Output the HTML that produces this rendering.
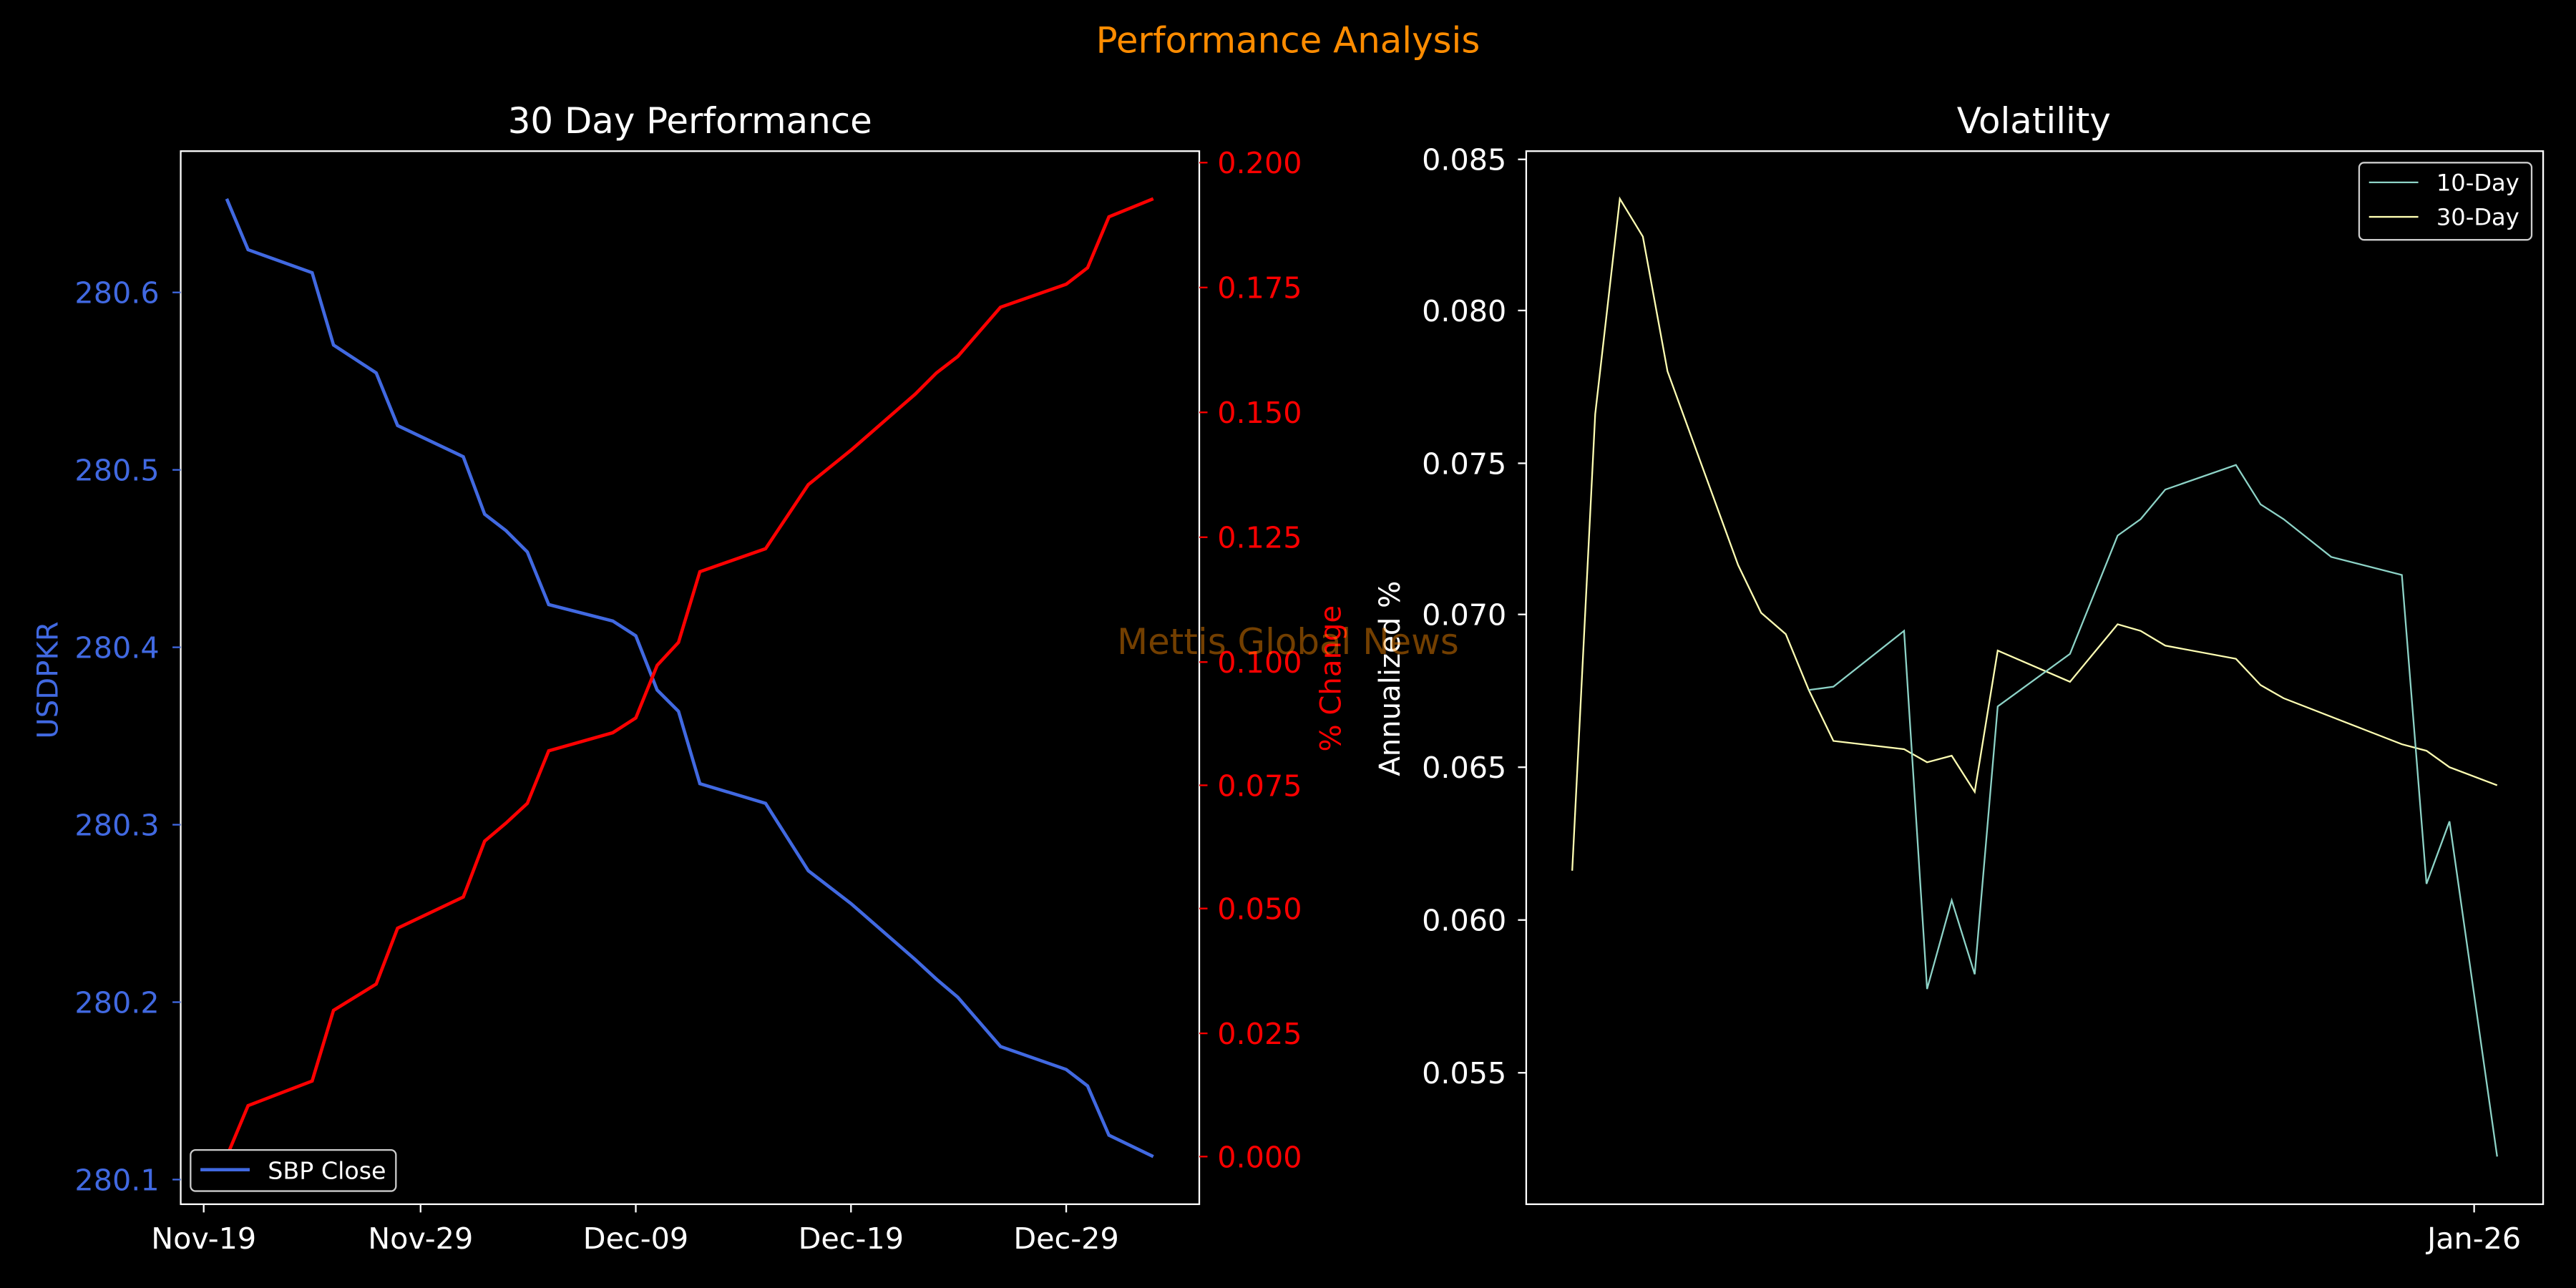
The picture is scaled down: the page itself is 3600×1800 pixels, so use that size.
<!DOCTYPE html>
<html><head><style>html,body{margin:0;padding:0;background:#000;}svg{display:block}</style></head>
<body>
<svg width="3600" height="1800" viewBox="0 0 1568 784" xmlns="http://www.w3.org/2000/svg" font-family="'DejaVu Sans','Liberation Sans',sans-serif">
<rect width="1568" height="784" fill="#000"/>
<text x="784" y="32" fill="#ff8c00" font-size="21.7" text-anchor="middle">Performance Analysis</text>
<!-- Left plot -->
<text x="420" y="81" fill="#fff" font-size="21.7" text-anchor="middle">30 Day Performance</text>
<rect x="110" y="92" width="620" height="641" fill="none" stroke="#fff" stroke-width="1"/>
<g fill="#4169e1" font-size="18" text-anchor="end" stroke="none">
<text x="97" y="184.5">280.6</text><text x="97" y="292.5">280.5</text><text x="97" y="400.5">280.4</text>
<text x="97" y="508.5">280.3</text><text x="97" y="616.5">280.2</text><text x="97" y="724.5">280.1</text>
</g>
<g stroke="#4169e1"><line x1="105" x2="110" y1="178" y2="178"/><line x1="105" x2="110" y1="286" y2="286"/><line x1="105" x2="110" y1="394" y2="394"/><line x1="105" x2="110" y1="502" y2="502"/><line x1="105" x2="110" y1="610" y2="610"/><line x1="105" x2="110" y1="718" y2="718"/></g>
<text transform="translate(35,414) rotate(-90)" fill="#4169e1" font-size="17.5" text-anchor="middle">USDPKR</text>
<g fill="#ff0000" font-size="18">
<text x="741" y="105.5">0.200</text><text x="741" y="181.5">0.175</text><text x="741" y="257.5">0.150</text>
<text x="741" y="333.5">0.125</text><text x="741" y="409.5">0.100</text><text x="741" y="484.5">0.075</text>
<text x="741" y="559.5">0.050</text><text x="741" y="635.5">0.025</text><text x="741" y="710.5">0.000</text>
</g>
<g stroke="#ff0000"><line x1="730" x2="735" y1="99" y2="99"/><line x1="730" x2="735" y1="175" y2="175"/><line x1="730" x2="735" y1="251" y2="251"/><line x1="730" x2="735" y1="327" y2="327"/><line x1="730" x2="735" y1="403" y2="403"/><line x1="730" x2="735" y1="478" y2="478"/><line x1="730" x2="735" y1="553" y2="553"/><line x1="730" x2="735" y1="629" y2="629"/><line x1="730" x2="735" y1="704" y2="704"/></g>
<text transform="translate(816,413) rotate(-90)" fill="#ff0000" font-size="17.5" text-anchor="middle">% Change</text>
<g fill="#fff" font-size="18" text-anchor="middle">
<text x="124" y="760">Nov-19</text><text x="256" y="760">Nov-29</text><text x="387" y="760">Dec-09</text><text x="518" y="760">Dec-19</text><text x="649" y="760">Dec-29</text>
</g>
<g stroke="#fff"><line x1="124" x2="124" y1="733" y2="738"/><line x1="256" x2="256" y1="733" y2="738"/><line x1="387" x2="387" y1="733" y2="738"/><line x1="518" x2="518" y1="733" y2="738"/><line x1="649" x2="649" y1="733" y2="738"/></g>
<polyline fill="none" stroke="#4169e1" stroke-width="2" points="138,121 151,152 190,166 203,210 229,227 242,259 282,278 295,313 308,323 321,336 334,368 373,378 387,387 400,420 413,433 426,477 466,489 492,530 518,550 557,584 570,596 583,607 609,637 649,651 662,661 675,691 702,704"/>
<polyline fill="none" stroke="#ff0000" stroke-width="2" points="138,704 151,673 190,658 203,615 229,599 242,565 282,546 295,512 308,501 321,489 334,457 373,446 387,437 400,405 413,391 426,348 466,334 492,295 518,274 557,240 570,227 583,217 609,187 649,173 662,163 675,132 702,121"/>
<rect x="116" y="700" width="125" height="25" rx="3" fill="#000" stroke="#ccc" stroke-width="1"/>
<line x1="122" x2="152" y1="712" y2="712" stroke="#4169e1" stroke-width="2"/>
<text x="163" y="717.5" fill="#fff" font-size="14.5">SBP Close</text>
<!-- Right plot -->
<text x="1238" y="81" fill="#fff" font-size="21.7" text-anchor="middle">Volatility</text>
<rect x="929" y="92" width="619" height="641" fill="none" stroke="#fff" stroke-width="1"/>
<g fill="#fff" font-size="18" text-anchor="end">
<text x="917" y="103.5">0.085</text><text x="917" y="195.5">0.080</text><text x="917" y="288.5">0.075</text><text x="917" y="380.5">0.070</text>
<text x="917" y="473.5">0.065</text><text x="917" y="566.5">0.060</text><text x="917" y="659.5">0.055</text>
</g>
<g stroke="#fff"><line x1="924" x2="929" y1="97" y2="97"/><line x1="924" x2="929" y1="189" y2="189"/><line x1="924" x2="929" y1="282" y2="282"/><line x1="924" x2="929" y1="374" y2="374"/><line x1="924" x2="929" y1="467" y2="467"/><line x1="924" x2="929" y1="560" y2="560"/><line x1="924" x2="929" y1="653" y2="653"/><line x1="1506" x2="1506" y1="733" y2="738"/></g>
<text transform="translate(852,413) rotate(-90)" fill="#fff" font-size="17.5" text-anchor="middle">Annualized %</text>
<text x="1506" y="760" fill="#fff" font-size="18" text-anchor="middle">Jan-26</text>
<polyline fill="none" stroke="#ffffb3" stroke-width="1" points="957,530 971,252 986,121 1000,144 1015,226 1058,344 1072,373 1087,386 1101,420 1116,451 1159,456 1173,464 1188,460 1202,482 1216,396 1260,415 1289,380 1303,384 1318,393 1361,401 1376,417 1390,425 1462,453 1477,457 1491,467 1520,478"/>
<polyline fill="none" stroke="#8dd3c7" stroke-width="1" points="1101,420 1116,418 1159,384 1173,602 1188,548 1202,593 1216,430 1260,398 1289,326 1303,316 1318,298 1361,283 1376,307 1390,316 1419,339 1462,350 1477,538 1491,500 1520,704"/>
<rect x="1436" y="99" width="105" height="47" rx="3" fill="#000" stroke="#ccc" stroke-width="1"/>
<line x1="1442" x2="1472" y1="111" y2="111" stroke="#8dd3c7" stroke-width="1"/>
<text x="1483" y="116" fill="#fff" font-size="14">10-Day</text>
<line x1="1442" x2="1472" y1="132" y2="132" stroke="#ffffb3" stroke-width="1"/>
<text x="1483" y="137" fill="#fff" font-size="14">30-Day</text>
<text x="784" y="398" fill="#ff8c00" fill-opacity="0.45" font-size="21.7" text-anchor="middle">Mettis Global News</text>
</svg>
</body></html>
